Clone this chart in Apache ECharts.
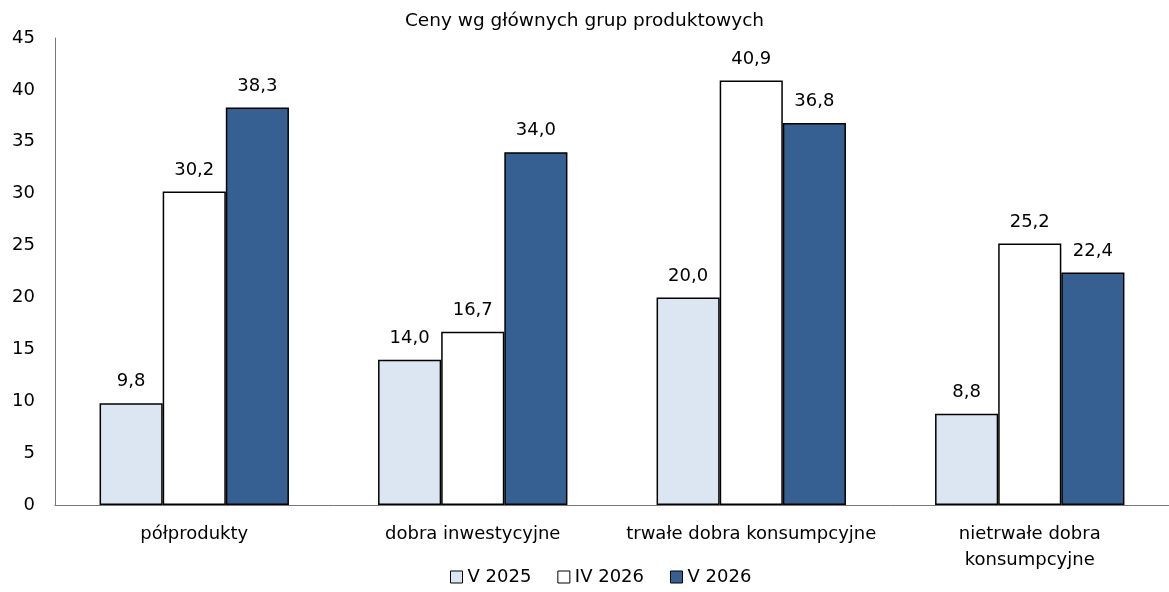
<!DOCTYPE html>
<html><head><meta charset="utf-8">
<script src="https://cdn.jsdelivr.net/npm/echarts@6/dist/echarts.min.js"></script>
<style>html,body{margin:0;padding:0;background:#fff}#c{width:1169px;height:592px}</style>
</head><body><div id="c"></div>
<script>
const categories = ['półprodukty', 'dobra inwestycyjne', 'trwałe dobra konsumpcyjne', 'nietrwałe dobra\nkonsumpcyjne'];
const seriesNames = ['V 2025', 'IV 2026', 'V 2026'];
const v2025 = [9.8, 14.0, 20.0, 8.8];
const iv2026 = [30.2, 16.7, 40.9, 25.2];
const v2026 = [38.3, 34.0, 36.8, 22.4];
const colors = ['#DCE6F2', '#FFFFFF', '#376092'];
const FONT = 'DejaVu Sans';
const FS = 18;
const chart = echarts.init(document.getElementById('c'));
const fmt = p => p.value.toFixed(1).replace('.', ',');
const mk = (name, data, color) => ({
  name, type: 'bar', data, barGap: '0%', barCategoryGap: '32%',
  itemStyle: { color, borderColor: '#000', borderWidth: 1.5 },
  label: { show: true, position: 'top', distance: 12.5, formatter: fmt, color: '#000', fontFamily: FONT, fontSize: FS }
});
chart.setOption({
  animation: false,
  title: { text: 'Ceny wg głównych grup produktowych', left: 'center', top: 7,
    textStyle: { fontFamily: FONT, fontSize: 18.5, fontWeight: 'normal', color: '#000' } },
  legend: { bottom: 1, left: 445, itemWidth: 12, itemHeight: 12, itemGap: 26,
    icon: 'rect', textStyle: { fontFamily: FONT, fontSize: FS, color: '#000', padding: [0,0,0,0] },
    data: seriesNames.map(n => ({ name: n, itemStyle: { borderColor: '#000', borderWidth: 1 } })) },
  grid: { left: 55, right: -3, top: 38, bottom: 87, containLabel: false },
  xAxis: { type: 'category', data: categories,
    axisLine: { lineStyle: { color: '#777', width: 1 } }, axisTick: { show: false },
    axisLabel: { fontFamily: FONT, fontSize: FS, color: '#000', margin: 16, lineHeight: 26, interval: 0 } },
  yAxis: { type: 'value', min: 0, max: 45, interval: 5,
    axisLine: { show: true, lineStyle: { color: '#777', width: 1 } }, axisTick: { show: false },
    splitLine: { show: false },
    axisLabel: { fontFamily: FONT, fontSize: FS, color: '#000', margin: 20 } },
  series: [mk(seriesNames[0], v2025, colors[0]), mk(seriesNames[1], iv2026, colors[1]), mk(seriesNames[2], v2026, colors[2])]
});
</script></body></html>
